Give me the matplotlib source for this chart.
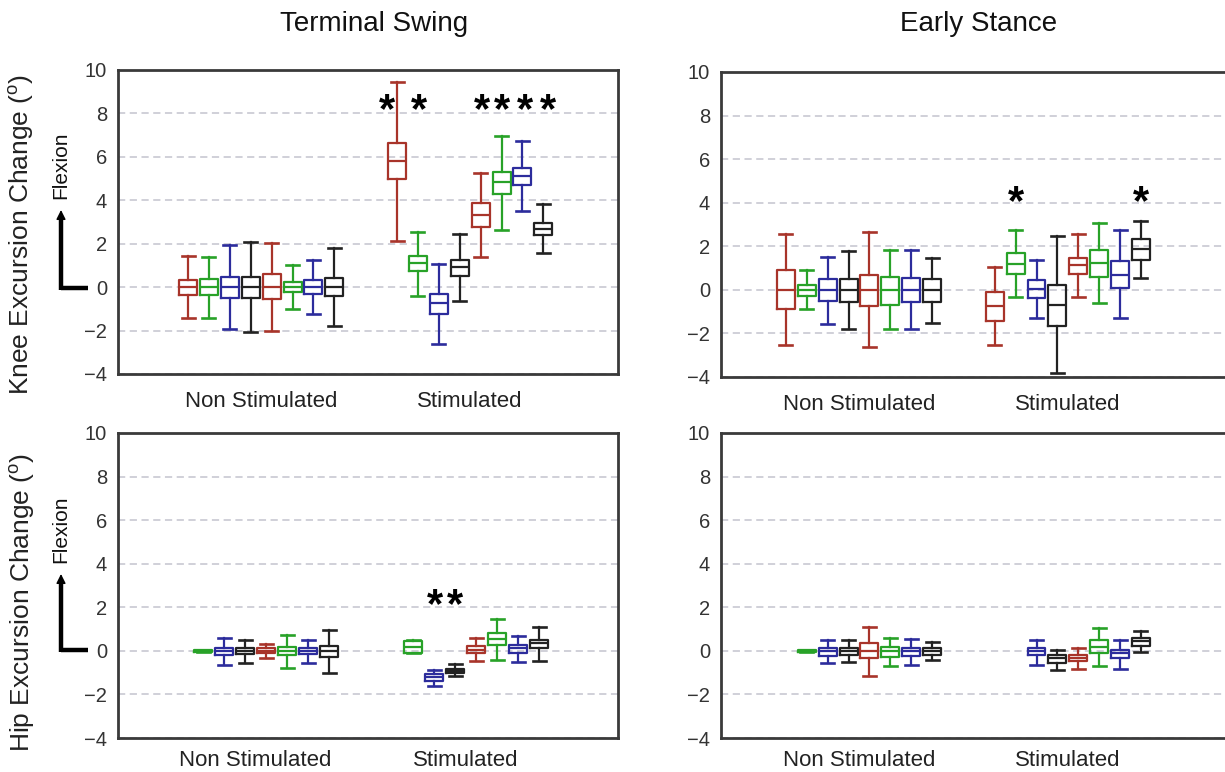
import matplotlib
matplotlib.use("Agg")
import matplotlib.pyplot as plt
from matplotlib.lines import Line2D

plt.rcParams['font.family'] = ['Liberation Sans', 'DejaVu Sans']

RED = '#a8342a'
GREEN = '#28a228'
BLUE = '#2c2c9c'
BLACK = '#222222'

group_labels = ['Non Stimulated', 'Stimulated']
group_centers = [3.5, 13.5]
yticks = [-4, -2, 0, 2, 4, 6, 8, 10]

# each row: whisker low, q1, median, q3, whisker high
knee_swing = [
    [-1.43, -0.34, 0, 0.34, 1.43],
    [-1.40, -0.37, 0, 0.37, 1.40],
    [-1.92, -0.49, 0, 0.49, 1.92],
    [-2.07, -0.49, 0, 0.49, 2.09],
    [-2.00, -0.55, 0, 0.59, 2.04],
    [-1.02, -0.24, 0, 0.24, 1.02],
    [-1.25, -0.32, 0, 0.32, 1.25],
    [-1.77, -0.42, 0, 0.42, 1.78],
    [2.13, 5.00, 5.82, 6.62, 9.47],
    [-0.41, 0.73, 1.10, 1.43, 2.55],
    [-2.62, -1.25, -0.75, -0.32, 1.05],
    [-0.66, 0.50, 0.93, 1.27, 2.45],
    [1.37, 2.76, 3.32, 3.87, 5.24],
    [2.64, 4.28, 4.82, 5.29, 6.95],
    [3.52, 4.70, 5.11, 5.47, 6.72],
    [1.57, 2.42, 2.70, 2.97, 3.83],
]
knee_swing_pos = [0, 1, 2, 3, 4, 5, 6, 7, 10, 11, 12, 13, 14, 15, 16, 17]
knee_swing_col = [RED, GREEN, BLUE, BLACK] * 4
knee_swing_stars_x = [9.5, 11.05, 14.05, 15.0, 16.1, 17.2]
knee_swing_stars_y = 8.1

knee_stance = [
    [-2.55, -0.89, 0, 0.90, 2.57],
    [-0.89, -0.28, 0, 0.23, 0.89],
    [-1.59, -0.49, 0, 0.49, 1.53],
    [-1.80, -0.57, 0, 0.50, 1.80],
    [-2.63, -0.73, 0, 0.69, 2.65],
    [-1.80, -0.69, 0, 0.61, 1.82],
    [-1.80, -0.57, 0, 0.54, 1.82],
    [-1.53, -0.57, 0, 0.50, 1.48],
    [-2.55, -1.41, -0.76, -0.12, 1.04],
    [-0.35, 0.72, 1.19, 1.68, 2.75],
    [-1.30, -0.38, 0.05, 0.43, 1.38],
    [-3.82, -1.64, -0.70, 0.23, 2.45],
    [-0.34, 0.72, 1.12, 1.47, 2.57],
    [-0.61, 0.57, 1.22, 1.83, 3.06],
    [-1.30, 0.08, 0.69, 1.33, 2.75],
    [0.54, 1.38, 1.87, 2.32, 3.17],
]
knee_stance_pos = knee_swing_pos
knee_stance_col = [RED, GREEN, BLUE, BLACK] * 4
knee_stance_stars_x = [11, 17]
knee_stance_stars_y = 4.0

hip_swing = [
    [-0.03, -0.03, 0, 0.03, 0.03],
    [-0.66, -0.20, 0, 0.14, 0.60],
    [-0.55, -0.15, 0, 0.15, 0.52],
    [-0.34, -0.12, 0, 0.12, 0.31],
    [-0.77, -0.21, 0, 0.18, 0.74],
    [-0.57, -0.15, 0, 0.14, 0.52],
    [-1.00, -0.28, 0, 0.21, 0.95],
    [-0.09, -0.08, 0.18, 0.44, 0.49],
    [-1.61, -1.38, -1.22, -1.07, -0.89],
    [-1.16, -1.01, -0.92, -0.81, -0.61],
    [-0.46, -0.09, 0.06, 0.21, 0.57],
    [-0.43, 0.29, 0.54, 0.80, 1.47],
    [-0.49, -0.08, 0.11, 0.28, 0.70],
    [-0.46, 0.11, 0.34, 0.52, 1.10],
]
hip_swing_pos = [1, 2, 3, 4, 5, 6, 7, 11, 12, 13, 14, 15, 16, 17]
hip_swing_col = [GREEN, BLUE, BLACK, RED, GREEN, BLUE, BLACK] * 2
hip_swing_stars_x = [12.05, 13.0]
hip_swing_stars_y = 2.05

hip_stance = [
    [-0.03, -0.03, 0, 0.03, 0.03],
    [-0.54, -0.23, 0, 0.14, 0.49],
    [-0.50, -0.20, 0, 0.14, 0.49],
    [-1.16, -0.35, 0, 0.37, 1.10],
    [-0.70, -0.28, 0, 0.18, 0.61],
    [-0.66, -0.23, 0, 0.15, 0.55],
    [-0.43, -0.20, 0, 0.12, 0.41],
    [-0.63, -0.20, 0, 0.14, 0.52],
    [-0.89, -0.54, -0.35, -0.20, 0.06],
    [-0.81, -0.46, -0.31, -0.17, 0.11],
    [-0.69, -0.08, 0.18, 0.49, 1.03],
    [-0.81, -0.35, -0.12, 0.06, 0.49],
    [-0.05, 0.23, 0.44, 0.60, 0.92],
]
hip_stance_pos = [1, 2, 3, 4, 5, 6, 7, 12, 13, 14, 15, 16, 17]
hip_stance_col = [GREEN, BLUE, BLACK, RED, GREEN, BLUE, BLACK,
                  BLUE, BLACK, RED, GREEN, BLUE, BLACK]


def panel(ax, rows, pos, cols, stars_x, stars_y, xlim, xpad=12):
    stats = [dict(whislo=r[0], q1=r[1], med=r[2], q3=r[3], whishi=r[4], fliers=[])
             for r in rows]
    bp = ax.bxp(stats, positions=pos, widths=0.86, capwidths=0.62,
                showfliers=False, manage_ticks=False)
    for i, c in enumerate(cols):
        bp['boxes'][i].set(color=c, linewidth=1.6)
        bp['medians'][i].set(color=c, linewidth=1.6)
        for k in (2 * i, 2 * i + 1):
            bp['whiskers'][k].set(color=c, linewidth=1.6)
            bp['caps'][k].set(color=c, linewidth=1.9)
    for sx in stars_x:
        ax.text(sx, stars_y, '*', ha='center', va='center', fontsize=30,
                fontweight='bold', color='black')
    ax.set_xlim(*xlim)
    ax.set_ylim(-4, 10)
    ax.set_yticks(yticks)
    ax.set_xticks(group_centers)
    ax.set_xticklabels(group_labels)
    ax.tick_params(axis='y', length=0, labelsize=14.5, pad=8, labelcolor='#333333')
    ax.tick_params(axis='x', length=0, labelsize=16, pad=xpad, labelcolor='#222222')
    ax.yaxis.grid(True, linestyle=(0, (4, 2.5)), color='#cdcdd6', linewidth=1.3)
    ax.set_axisbelow(True)
    for s in ax.spines.values():
        s.set_color('#3a3a3a')
        s.set_linewidth(2)


W, H = 1225, 772
fig = plt.figure(figsize=(12.25, 7.72), dpi=100)

ax1 = fig.add_axes([118 / W, 1 - 374 / H, 500 / W, 304 / H])
ax2 = fig.add_axes([721 / W, 1 - 377 / H, 507 / W, 305 / H])
ax3 = fig.add_axes([118 / W, 1 - 738 / H, 500 / W, 305 / H])
ax4 = fig.add_axes([721 / W, 1 - 738 / H, 507 / W, 305 / H])

panel(ax1, knee_swing, knee_swing_pos, knee_swing_col,
      knee_swing_stars_x, knee_swing_stars_y, (-3.35, 20.57))
panel(ax2, knee_stance, knee_stance_pos, knee_stance_col,
      knee_stance_stars_x, knee_stance_stars_y, (-3.11, 21.17))
panel(ax3, hip_swing, hip_swing_pos, hip_swing_col,
      hip_swing_stars_x, hip_swing_stars_y, (-3.05, 20.76), xpad=9)
panel(ax4, hip_stance, hip_stance_pos, hip_stance_col,
      [], 0, (-3.11, 21.17), xpad=9)

fig.text(374 / W, 1 - 24 / H, 'Terminal Swing', ha='center', va='center',
         fontsize=20, color='#111111')
fig.text(979 / W, 1 - 24 / H, 'Early Stance', ha='center', va='center',
         fontsize=20, color='#111111')

fig.text(21 / W, 1 - 234 / H, 'Knee Excursion Change ($^\\mathregular{o}$)',
         rotation=90, ha='center', va='center', fontsize=19, color='#222222')
fig.text(22 / W, 1 - 602 / H, 'Hip Excursion Change ($^\\mathregular{o}$)',
         rotation=90, ha='center', va='center', fontsize=19, color='#222222')

# flexion direction markers
for ycorner, ytip, ytext in [(288, 210, 165), (650, 574, 529)]:
    fig.text(61 / W, 1 - ytext / H, 'Flexion', rotation=90, ha='center',
             va='center', fontsize=15, color='#111111')
    fig.add_artist(Line2D([61 / W, 88 / W], [1 - ycorner / H, 1 - ycorner / H],
                          transform=fig.transFigure, color='black', linewidth=3.2,
                          solid_capstyle='butt'))
    fig.add_artist(Line2D([61 / W, 61 / W], [1 - (ycorner + 1.5) / H, 1 - (ytip + 10) / H],
                          transform=fig.transFigure, color='black', linewidth=3.2,
                          solid_capstyle='butt'))
    ax1.annotate('', xy=(61 / W, 1 - ytip / H), xytext=(61 / W, 1 - (ytip + 14) / H),
                 xycoords='figure fraction', textcoords='figure fraction',
                 arrowprops=dict(arrowstyle='-|>', color='black', lw=1,
                                 mutation_scale=14, shrinkA=0, shrinkB=0),
                 annotation_clip=False)

fig.savefig('out.png', dpi=100)
